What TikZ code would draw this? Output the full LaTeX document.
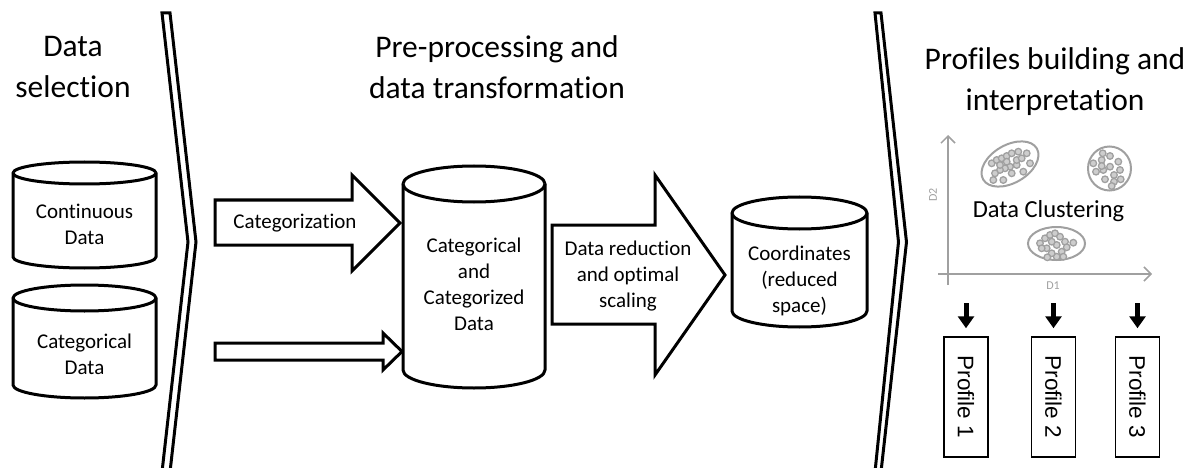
\documentclass[tikz,border=0pt]{standalone}
\usepackage{fontspec}
\setmainfont[Ligatures=NoCommon]{Carlito}
\newfontfamily\arialfont{Liberation Sans}
\usetikzlibrary{arrows.meta}
\definecolor{plotgray}{RGB}{160,160,160}
\definecolor{dotfill}{RGB}{205,205,205}
\newcommand\dbcyl[5]{% left, top, right, bottom, ry
  \pgfmathsetmacro\cylrx{(#3-#1)/2}
  \draw[cylline] (#1,#2+#5) -- (#1,#4-#5)
     arc[start angle=180,end angle=0,x radius=\cylrx,y radius=#5]
     -- (#3,#2+#5)
     arc[start angle=0,end angle=-180,x radius=\cylrx,y radius=#5] -- cycle;
  \draw[cylline] (#1,#2+#5) arc[start angle=180,end angle=0,x radius=\cylrx,y radius=#5];
}
\begin{document}
\begin{tikzpicture}[x=1pt,y=-1pt,
  cylline/.style={line width=3pt,line join=round,fill=white},
  chev/.style={line width=3pt,line join=miter,fill=white},
  blockarrow/.style={line width=3pt,line join=miter,fill=white},
  lbl/.style={font=\fontsize{21}{26}\selectfont,align=center,inner sep=0pt},
  head/.style={font=\fontsize{31.5}{41}\selectfont,align=center,inner sep=0pt},
  axis/.style={plotgray,line width=1.5pt,-{Straight Barb[length=7pt,width=14pt,line width=1.5pt]}},
  axlbl/.style={plotgray,font=\fontsize{12}{14}\selectfont,inner sep=0pt},
  clus/.style={plotgray,line width=2pt},
  dot/.style={draw=plotgray,fill=dotfill,line width=1.3pt},
  profbox/.style={draw,line width=1.5pt,rotate=-90,minimum width=120pt,minimum height=44pt,
     inner sep=0pt,font=\arialfont\fontsize{22.5}{26}\selectfont},
  profarrow/.style={line width=5pt,-{Triangle[width=16pt,length=12pt]},shorten >=8pt}
]
\useasboundingbox (0,0) rectangle (1192,468);

% chevrons
\draw[chev] (162,13) -- (170,13) -- (196,242) -- (170,472) -- (162,472) -- (188,242) -- cycle;
\draw[chev] (875,13) -- (881,13) -- (906.5,242) -- (881,472) -- (875,472) -- (898.5,242) -- cycle;

% headings
\node[head] (h1) at (73,67) {Data\\selection};
\node[head] (h2) at (497,67) {Pre-processing and\\data transformation};
\node[head] (h3) at (1055,82) {Profiles building and\\interpretation};

% cylinders
\dbcyl{13}{162}{156}{268}{11}
\node[lbl] (cont) at (84.5,224.5) {Continuous\\Data};
\dbcyl{13}{285}{156}{398}{13}
\node[lbl] (catd) at (84.5,354.5) {Categorical\\Data};

% block arrows
\draw[blockarrow] (215,200) -- (352,200) -- (352,175) -- (400,223) -- (352,271) -- (352,245) -- (215,245) -- cycle;
\node[lbl] (catz) at (295,223) {Categorization};
\draw[blockarrow] (215,343) -- (383,343) -- (383,333) -- (402,351.5) -- (383,370) -- (383,360) -- (215,360) -- cycle;

\dbcyl{403}{166}{545}{388}{18}
\node[lbl] (catcat) at (474,284) {Categorical\\and\\Categorized\\Data};

\draw[blockarrow] (552,225) -- (655,225) -- (655,175) -- (725,275) -- (655,375) -- (655,324) -- (552,324) -- cycle;
\node[lbl] (red) at (628,276.5) {Data reduction\\and optimal\\scaling};

\dbcyl{732}{197}{867}{327}{16}
\node[lbl] (coord) at (799.5,281) {Coordinates\\(reduced\\space)};

% plot
\coordinate (o1) at (938,274);
\coordinate (x1) at (1152,274);
\coordinate (o2) at (948,285);
\coordinate (y2) at (948,135);
\draw[axis] (o1) -- (x1);
\draw[axis] (o2) -- (y2);
\node[axlbl,rotate=90] (d2) at (933,195) {D2};
\node[axlbl] (d1) at (1053,286) {D1};

\draw[clus,rotate around={30:(1010,164)}] (1010,164) ellipse [x radius=31,y radius=19];
\draw[clus] (1109.5,168.5) ellipse [x radius=21.5,y radius=22];
\draw[clus] (1056.5,243.5) ellipse [x radius=28.5,y radius=16.5];

\foreach \p in {(991.7,163.3),(996.7,160),(1001.7,158.3),(1006.7,156),(1011.7,153.3),(1018.3,151.7),
  (1026.7,153.3),(1030,163.3),(1023.3,171.7),(1016.7,165),(1010,166.7),(1005,168.3),(1000,170),
  (995,173.3),(993.3,180),(1003.3,180),(1011.7,173.3),(1016.7,160),(1021.7,158.3),(1006.7,161.7),(1000,165),
  (1093.3,163.3),(1101.7,160),(1110,156),(1118.3,161.7),(1120,170),(1114,175),(1110,166.7),(1103.3,170),
  (1096,171.7),(1105,179.3),(1114,181.7),(1120.7,179.3),(1111.7,186),(1102.7,153.3),(1101.7,166),
  (1040,243.3),(1045,238.3),(1050,235),(1055,233.3),(1060,236.7),(1065,241.7),(1073.3,242.7),(1066.7,247.3),
  (1061.7,251.7),(1056.7,256.7),(1051.7,253.3),(1046.7,248.3),(1041.7,248.3),(1056.7,245),(1051.7,241.7),
  (1063.3,256.7),(1047.3,257.3)}
  \draw[dot] \p circle[radius=3.3];

\node[font=\fontsize{24.5}{28}\selectfont,inner sep=0pt] (clust) at (1048.5,211) {Data Clustering};

% profiles
\node[profbox] (prof1) at (966,397) {Profile 1};
\node[profbox] (prof2) at (1053.5,397) {Profile 2};
\node[profbox] (prof3) at (1137.5,397) {Profile 3};
\coordinate (a1) at (966,303);
\coordinate (a2) at (1053.5,303);
\coordinate (a3) at (1137.5,303);
\draw[profarrow] (a1) -- (prof1.west);
\draw[profarrow] (a2) -- (prof2.west);
\draw[profarrow] (a3) -- (prof3.west);
\end{tikzpicture}
\end{document}
